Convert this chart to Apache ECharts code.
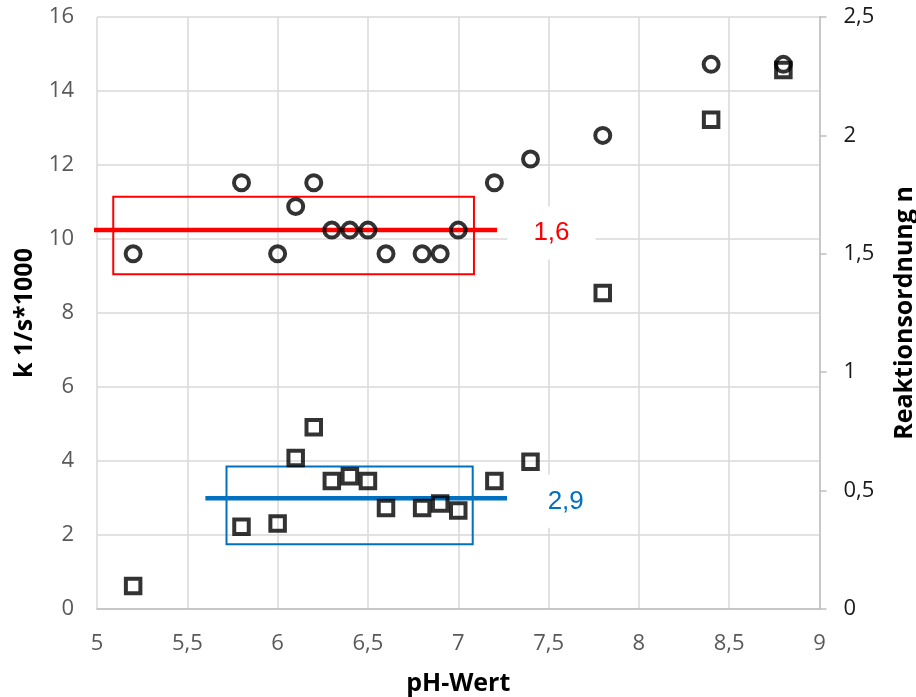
<!DOCTYPE html>
<html>
<head>
<meta charset="utf-8">
<script src="https://cdn.jsdelivr.net/npm/echarts@6/dist/echarts.min.js"></script>
<style>html,body{margin:0;padding:0;background:#fff}#c{width:916px;height:697px}</style>
</head>
<body>
<div id="c"></div>
<script>
// pH values (x)
const phValues = [5.2, 5.8, 6.0, 6.1, 6.2, 6.3, 6.4, 6.5, 6.6, 6.8, 6.9, 7.0, 7.2, 7.4, 7.8, 8.4, 8.8];
// rate constant k 1/s*1000 (left axis, squares)
const kValues = [0.62, 2.22, 2.31, 4.08, 4.91, 3.46, 3.59, 3.46, 2.73, 2.73, 2.85, 2.66, 3.46, 3.98, 8.54, 13.22, 14.57];
// reaction order n (right axis, circles)
const nValues = [1.5, 1.8, 1.5, 1.7, 1.8, 1.6, 1.6, 1.6, 1.5, 1.5, 1.5, 1.6, 1.8, 1.9, 2.0, 2.3, 2.3];

// annotation values (data coordinates on left axis)
const redBox = [[5.09, 11.14], [7.087, 9.05]];
const redLine = [[4.983, 10.24], [7.215, 10.24]];
const redLabel = { x: 7.516, y: 10.16, text: '1,6' };
const blueBox = [[5.717, 3.85], [7.08, 1.75]];
const blueLine = [[5.6, 2.99], [7.27, 2.99]];
const blueLabel = { x: 7.595, y: 2.91, text: '2,9' };

const xTicks = { min: 5, max: 9, interval: 0.5 };
const yLeftTicks = { min: 0, max: 16, interval: 2 };
const yRightTicks = { min: 0, max: 2.5, interval: 0.5 };

const fmt = v => String(v).replace('.', ',');
const font = '"Open Sans", "Noto Sans", sans-serif';

const chart = echarts.init(document.getElementById('c'), null, { renderer: 'canvas' });

function pair(arrX, arrY) { return arrX.map((x, i) => [x, arrY[i]]); }

const markerStyle = { color: 'rgba(0,0,0,0)', borderColor: '#000', borderWidth: 4 };

function annotation(color, box, label) {
  return {
    type: 'scatter',
    yAxisIndex: 0,
    data: [],
    silent: true,
    z: 1,
    markArea: {
      silent: true,
      itemStyle: { color: 'rgba(0,0,0,0)', borderColor: color, borderWidth: 2 },
      data: [[{ coord: box[0] }, { coord: box[1] }]]
    },
    markPoint: {
      silent: true,
      symbol: 'rect',
      symbolSize: 0,
      label: {
        show: true,
        position: 'inside',
        formatter: label.text,
        color: color,
        fontSize: 26,
        fontFamily: '"Liberation Sans", Arial, sans-serif',
        backgroundColor: '#fff',
        padding: [14, 26, 13, 26]
      },
      data: [{ coord: [label.x, label.y] }]
    }
  };
}

function lineSeries(color, line) {
  return {
    type: 'line',
    yAxisIndex: 0,
    clip: false,
    silent: true,
    symbol: 'none',
    z: 2,
    lineStyle: { color: color, width: 4.5 },
    data: line
  };
}

chart.setOption({
  animation: false,
  backgroundColor: '#fff',
  grid: { left: 97, right: 96.5, top: 17, bottom: 88, containLabel: false, outerBoundsMode: 'none' },
  xAxis: {
    type: 'value',
    min: xTicks.min, max: xTicks.max, interval: xTicks.interval,
    name: 'pH-Wert',
    nameLocation: 'middle',
    nameGap: 62,
    nameTextStyle: { fontFamily: font, fontWeight: 'bold', fontSize: 25, color: '#000' },
    axisLine: { show: true, lineStyle: { color: '#bfbfbf', width: 1.5 } },
    axisTick: { show: false },
    axisLabel: { formatter: fmt, color: '#595959', fontSize: 22, fontFamily: font, margin: 24 },
    splitLine: { show: true, lineStyle: { color: '#d9d9d9', width: 1.5 } }
  },
  yAxis: [
    {
      type: 'value',
      position: 'left',
      min: yLeftTicks.min, max: yLeftTicks.max, interval: yLeftTicks.interval,
      name: 'k 1/s*1000',
      nameLocation: 'middle',
      nameGap: 60,
      nameTextStyle: { fontFamily: font, fontWeight: 'bold', fontSize: 25, color: '#000' },
      axisLine: { show: false },
      axisTick: { show: false },
      axisLabel: { formatter: fmt, color: '#595959', fontSize: 22, fontFamily: font, margin: 23 },
      splitLine: { show: true, lineStyle: { color: '#d9d9d9', width: 1.5 } }
    },
    {
      type: 'value',
      position: 'right',
      min: yRightTicks.min, max: yRightTicks.max, interval: yRightTicks.interval,
      name: 'Reaktionsordnung n',
      nameLocation: 'middle',
      nameGap: 73,
      nameTextStyle: { fontFamily: font, fontWeight: 'bold', fontSize: 25, color: '#000' },
      axisLine: { show: true, lineStyle: { color: '#bfbfbf', width: 1.5 } },
      axisTick: { show: true, inside: false, length: 7, lineStyle: { color: '#bfbfbf', width: 1.5 } },
      axisLabel: { formatter: fmt, color: '#1a1a1a', fontSize: 22, fontFamily: font, margin: 24 },
      splitLine: { show: false }
    }
  ],
  series: [
    annotation('#ff0000', redBox, redLabel),
    annotation('#0070c0', blueBox, blueLabel),
    lineSeries('#ff0000', redLine),
    lineSeries('#0070c0', blueLine),
    {
      type: 'scatter',
      name: 'n',
      yAxisIndex: 1,
      symbol: 'circle',
      symbolSize: 15,
      itemStyle: markerStyle,
      z: 3,
      data: pair(phValues, nValues)
    },
    {
      type: 'scatter',
      name: 'k',
      yAxisIndex: 0,
      symbol: 'rect',
      symbolSize: 14.5,
      itemStyle: markerStyle,
      z: 4,
      data: pair(phValues, kValues)
    }
  ]
});
</script>
</body>
</html>
